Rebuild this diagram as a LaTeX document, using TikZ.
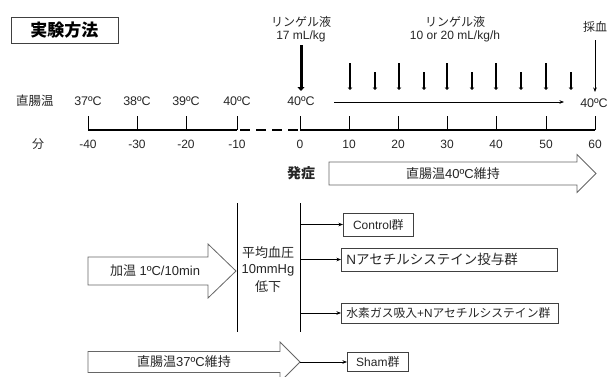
\documentclass[tikz,border=0pt]{standalone}
\usepackage{fontspec}
\setmainfont{Liberation Sans}
\newfontfamily\cjk{Noto Sans CJK JP}
\usetikzlibrary{arrows.meta}
\newcommand\J[1]{{\cjk #1}}
\newcommand\fs[1]{\fontsize{#1}{#1}\selectfont}
\newcommand\blkarr[7]{%
  \draw[blk] (#1,#4-#5) -- (#2,#4-#5) -- (#2,#4-#6) -- (#3,#4) -- (#2,#4+#6) -- (#2,#4+#5) -- (#1,#4+#5) -- cycle;
  \coordinate (#7) at (#3,#4);}
\begin{document}
\begin{tikzpicture}[x=1pt,y=-1pt,
  txt/.style={inner sep=0pt, text=black!85, font=\fs{12}},
  ax/.style={line width=1.6pt},
  tk/.style={line width=0.7pt},
  blk/.style={draw=black!60, fill=white, line width=0.8pt},
  grp/.style={draw=black!75, line width=0.8pt, inner xsep=5pt, inner ysep=0pt, anchor=west, text=black!85, align=left},
  arr/.style={-{Stealth[length=4.5pt,width=3.5pt]}, line width=0.6pt},
  inf/.style={line width=2.2pt, -{Triangle[length=2.5pt,width=4.5pt]}}]
\useasboundingbox (0,0) rectangle (608,376);

% title
\node[draw=black!75, line width=0.8pt, minimum width=107pt, minimum height=26pt, inner sep=0pt, font=\fs{17}\bfseries] (title) at (64.5,30) {\J{実験方法}};

% timeline coordinates
\foreach \n/\x in {a/88,b/137,c/186,d/237,e/300,f/349,g/398,h/447,i/496,j/546,k/595}
  \coordinate (t\n) at (\x,130);
\draw[ax] (ta) -- (td);
\draw[ax, dash pattern=on 10pt off 6pt, dash phase=-3pt] (td) -- (te);
\draw[ax] (te) -- (tk);
\foreach \n in {a,b,c,d,e,f,g,h,i,j,k}
  \draw[tk] (t\n) -- ++(0,-14);

% temperature labels
\node[txt, font=\fs{12.5}] (rt) at (35,101) {\J{直腸温}};
\node[txt, font=\fs{12.5}] (c37) at (88,101) {37ºC};
\node[txt, font=\fs{12.5}] (c38) at (137,101) {38ºC};
\node[txt, font=\fs{12.5}] (c39) at (186,101) {39ºC};
\node[txt, font=\fs{12.5}] (c40a) at (237,101) {40ºC};
\node[txt, font=\fs{12.5}] (c40b) at (301,101) {40ºC};
\node[txt, font=\fs{12.5}] (c40c) at (594,103) {40ºC};
\draw[arr] (334,102) coordinate (h0) -- (564,102) coordinate (h1);

% minute labels
\node[txt] (fen) at (38,144) {\J{分}};
\foreach \n/\x/\l in {a/88/-40,b/137/-30,c/186/-20,d/237/-10,e/300/0,f/349/10,g/398/20,h/447/30,i/496/40,j/546/50,k/595/60}
  \node[txt] (m\n) at (\x,144) {\l};

% ringer bolus
\node[txt] (r1) at (301,22) {\J{リンゲル液}};
\node[txt] (r1b) at (301,36) {17 mL/kg};
\coordinate (b0) at (301,45);
\coordinate (b1) at (301,91);
\draw[line width=3pt, -{Triangle[length=4pt,width=7pt]}] (b0) -- (b1);

% ringer infusion
\node[txt] (r2) at (455,22) {\J{リンゲル液}};
\node[txt] (r2b) at (455,36) {10 or 20 mL/kg/h};
\foreach \x in {350,399,447,496,546}
  \draw[inf] (\x,63) -- (\x,90);
\foreach \x in {375,424,472,521,571}
  \draw[inf] (\x,72) -- (\x,90);

% blood sampling
\node[txt] (saiketsu) at (595,27) {\J{採血}};
\draw[arr] (saiketsu.south |- 0,40) -- (595,92);

% onset
\node[txt, font=\fs{14}\bfseries] (onset) at (301,173) {\J{発症}};
\blkarr{329}{577}{596}{173.5}{11.5}{19}{a1}
\node[txt, font=\fs{13}] (k40) at (453,173.5) {\J{直腸温}40ºC\J{維持}};

% lower section
\blkarr{88}{208}{236}{271}{14}{27}{a2}
\node[txt, font=\fs{13}] (kaon) at (155,271) {\J{加温} 1ºC/10min};
\coordinate (v1t) at (237,203);
\coordinate (v1b) at (237,332);
\draw[line width=0.8pt] (v1t) -- (v1b);
\node[txt, font=\fs{13}] (bp1) at (268,253) {\J{平均血圧}};
\node[txt, font=\fs{13}] (bp2) at (268,270) {10mmHg};
\node[txt, font=\fs{13}] (bp3) at (268,287) {\J{低下}};
\coordinate (v2t) at (300,203);
\coordinate (v2b) at (300,332);
\draw[line width=0.8pt] (v2t) -- (v2b);

\node[grp, minimum width=70pt, minimum height=23pt, font=\fs{12}] (ctrl) at (343,224.5) {Control\J{群}};
\node[grp, minimum width=216pt, minimum height=23pt, font=\fs{13.5}, text width=206pt] (nac) at (341,259.5) {N\J{アセチルシステイン投与群}};
\node[grp, minimum width=217pt, minimum height=20pt, font=\fs{11.8}, text width=207pt] (h2) at (341,313) {\J{水素ガス吸入}+N\J{アセチルシステイン群}};
\node[grp, minimum width=61pt, minimum height=19pt, font=\fs{12}, inner xsep=7pt] (sham) at (347,362) {Sham\J{群}};

\draw[arr] (ctrl.west -| v2t) -- (ctrl.west);
\draw[arr] (nac.west -| v2t) -- (nac.west);
\draw[arr] (h2.west -| v2t) -- (h2.west);

\blkarr{88}{280}{300}{362}{10.5}{20}{a3}
\node[txt, font=\fs{13}] (k37) at (184,362) {\J{直腸温}37ºC\J{維持}};
\draw[arr] (a3) -- (sham.west);
\end{tikzpicture}
\end{document}
